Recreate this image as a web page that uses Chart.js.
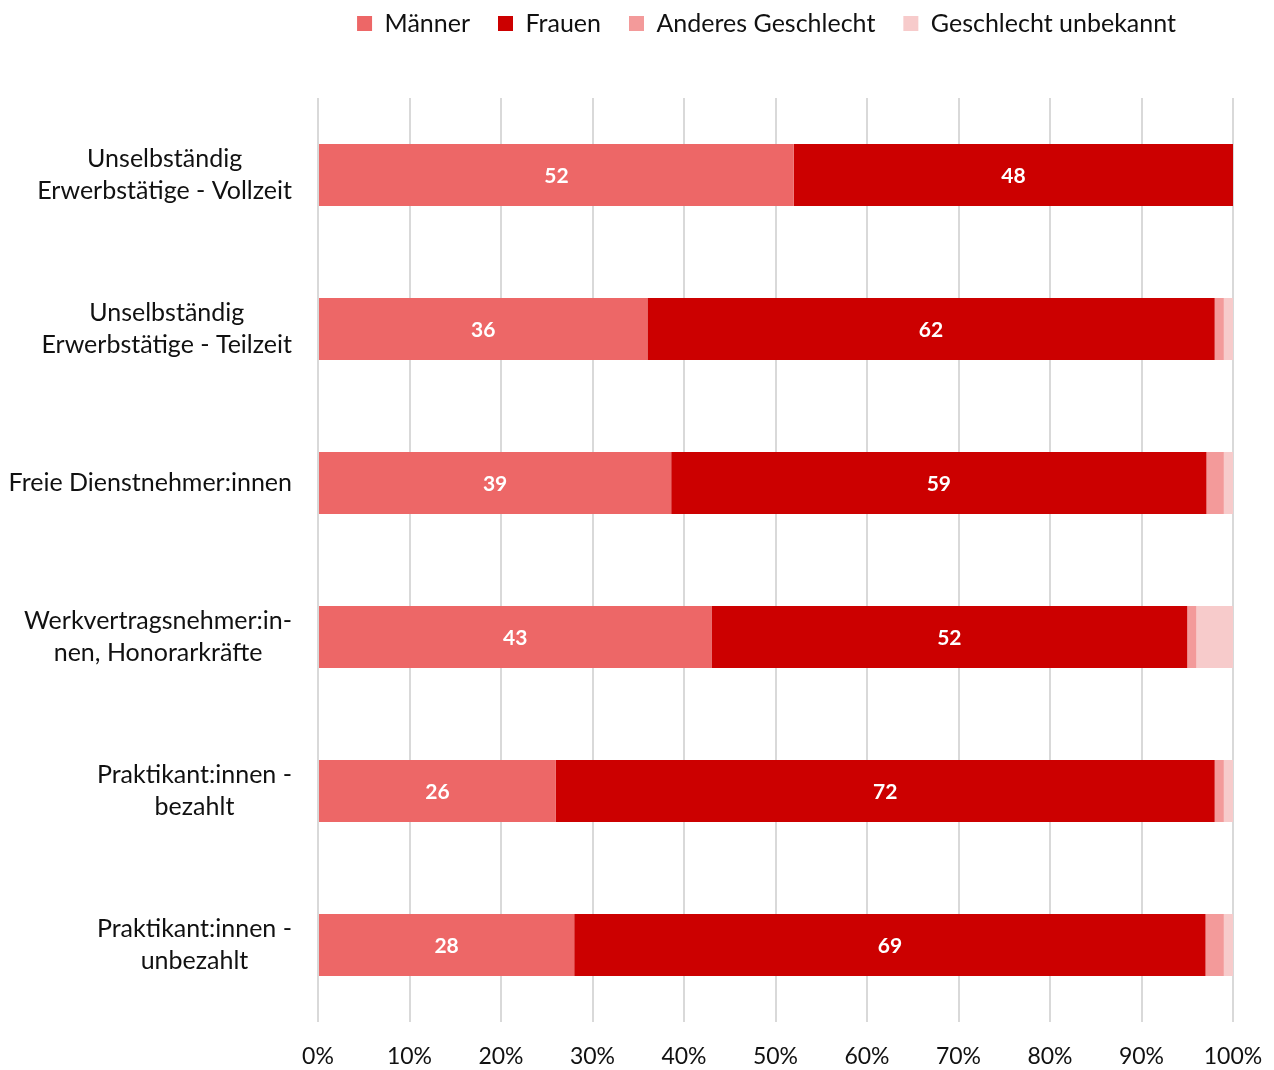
<!DOCTYPE html>
<html lang="de">
<head>
<meta charset="utf-8">
<title>Beschäftigungsformen nach Geschlecht</title>
<script src="https://cdn.jsdelivr.net/npm/chart.js@4/dist/chart.umd.min.js"></script>
<style>
  html, body { margin: 0; padding: 0; background: #ffffff; }
  #wrap { width: 1274px; height: 1070px; }
</style>
</head>
<body>
<div id="wrap"><canvas id="chart" width="1274" height="1070"></canvas></div>
<script>
// Beschäftigungsformen (multi-line labels)
const categories = [
  ["Unselbständig", "Erwerbstätige - Vollzeit"],
  ["Unselbständig", "Erwerbstätige - Teilzeit"],
  ["Freie Dienstnehmer:innen"],
  ["Werkvertragsnehmer:in-", "nen, Honorarkräfte"],
  ["Praktikant:innen -", "bezahlt"],
  ["Praktikant:innen -", "unbezahlt"]
];

// Anteile in Prozent
const maenner   = [52, 36, 38.6, 43, 26, 28];
const frauen    = [48, 62, 58.5, 52, 72, 69];
const anderes   = [0, 1, 1.9, 1, 1, 2];
const unbekannt = [0, 1, 1, 4, 1, 1];

const seriesNames = ["Männer", "Frauen", "Anderes Geschlecht", "Geschlecht unbekannt"];
const xTicks = ["0%", "10%", "20%", "30%", "40%", "50%", "60%", "70%", "80%", "90%", "100%"];

const FONT = "Lato, 'Open Sans', 'DejaVu Sans', sans-serif";
const TEXT = "#111111";

// White value labels in the middle of the first two segments
const segmentLabels = {
  id: "segmentLabels",
  afterDatasetsDraw(chart) {
    const ctx = chart.ctx;
    ctx.save();
    ctx.font = "bold 21px " + FONT;
    ctx.fillStyle = "#ffffff";
    ctx.textAlign = "center";
    ctx.textBaseline = "middle";
    [0, 1].forEach(di => {
      const meta = chart.getDatasetMeta(di);
      meta.data.forEach((el, i) => {
        const v = chart.data.datasets[di].data[i];
        if (!v) return;
        const cx = (el.x + el.base) / 2;
        ctx.fillText(String(Math.round(v)), cx, el.y + 1);
      });
    });
    ctx.restore();
  }
};

// Category labels: block right-aligned to the axis, lines centred within the block
const categoryLabels = {
  id: "categoryLabels",
  afterDraw(chart) {
    const ctx = chart.ctx;
    const y = chart.scales.y;
    const right = chart.chartArea.left - 26;
    const lineH = 32;
    ctx.save();
    ctx.font = "25px " + FONT;
    ctx.fillStyle = TEXT;
    ctx.textAlign = "center";
    ctx.textBaseline = "middle";
    categories.forEach((lines, i) => {
      const cy = y.getPixelForValue(i);
      const w = Math.max(...lines.map(l => ctx.measureText(l).width));
      const cx = right - w / 2;
      const top = cy - (lines.length - 1) * lineH / 2;
      lines.forEach((l, k) => ctx.fillText(l, cx, top + k * lineH));
    });
    ctx.restore();
  }
};

// Fixed legend band height above the plot; legend row sits near the top edge
const legendBand = {
  id: "legendBand",
  beforeInit(chart) {
    const fit = chart.legend.fit;
    chart.legend.fit = function () {
      fit.call(this);
      this.height = 98;
    };
  },
  afterLayout(chart) {
    chart.legend.top = -17;
    chart.legend.left -= 9;
    chart.legend.right -= 9;
  }
};

new Chart(document.getElementById("chart"), {
  type: "bar",
  data: {
    labels: categories.map(c => c.join(" ")),
    datasets: [
      { label: seriesNames[0], data: maenner,   backgroundColor: "#ED6767" },
      { label: seriesNames[1], data: frauen,    backgroundColor: "#CC0000" },
      { label: seriesNames[2], data: anderes,   backgroundColor: "#F39A9A" },
      { label: seriesNames[3], data: unbekannt, backgroundColor: "#F7CBCB" }
    ]
  },
  options: {
    indexAxis: "y",
    responsive: false,
    animation: false,
    layout: { padding: { left: 0, right: 41, top: 0, bottom: 0 } },
    datasets: {
      bar: { barPercentage: 0.403, categoryPercentage: 1, borderWidth: 0 }
    },
    plugins: {
      legend: {
        position: "top",
        fullSize: false,
        labels: {
          font: { family: FONT, size: 25 },
          color: TEXT,
          boxWidth: 15,
          boxHeight: 15,
          padding: 28
        }
      },
      tooltip: { enabled: false }
    },
    scales: {
      x: {
        stacked: true,
        min: 0,
        max: 100,
        ticks: {
          stepSize: 10,
          padding: 21,
          color: TEXT,
          font: { family: FONT, size: 23 },
          callback: (v, i) => xTicks[i]
        },
        grid: { color: "#d9d9d9", lineWidth: 2, drawTicks: false },
        border: { display: false },
        afterFit(s) {
          s.height = 48;
          s.paddingLeft = 0;
          s.paddingRight = 0;
        }
      },
      y: {
        stacked: true,
        ticks: { display: false },
        grid: { display: false },
        border: { display: false },
        afterFit(s) { s.width = 318; }
      }
    }
  },
  plugins: [segmentLabels, categoryLabels, legendBand]
});
</script>
</body>
</html>
